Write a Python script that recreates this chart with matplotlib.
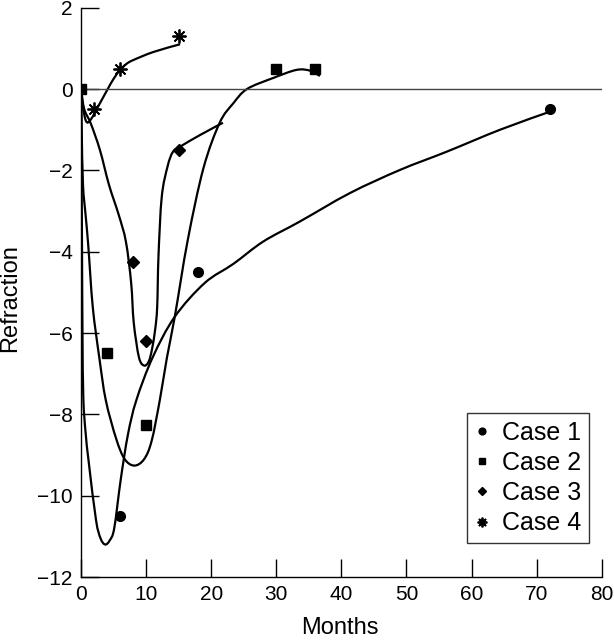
import numpy as np
import matplotlib.pyplot as plt
from matplotlib.path import Path
from matplotlib.patches import PathPatch

plt.rcParams['font.family'] = ['Liberation Sans', 'DejaVu Sans']

# measured points
case1_x = [6, 18, 72]
case1_y = [-10.5, -4.5, -0.5]
case2_x = [0, 4, 10, 30, 36]
case2_y = [0, -6.5, -8.25, 0.5, 0.5]
case3_x = [8, 10, 15]
case3_y = [-4.25, -6.2, -1.5]
case4_x = [2, 6, 15]
case4_y = [-0.5, 0.5, 1.3]

# fitted curves
fit1_x = [0, 0.08, 0.15, 0.22, 0.35, 0.7, 1.2, 2.3, 3.0, 3.7, 4.4, 5.1, 6.1, 7.2, 8.5,
          11, 14.4, 19, 23.4, 28, 33.6, 41.3, 49, 56.2, 64.4, 72]
fit1_y = [0, -2, -4, -6, -7.6, -8.45, -9.2, -10.6, -11.05, -11.2, -11.1, -10.8, -9.6,
          -8.5, -7.65, -6.6, -5.6, -4.77, -4.3, -3.75, -3.26, -2.56, -1.99, -1.54, -1.0, -0.56]
fit2_x = [0, 0.1, 0.3, 0.7, 1.1, 1.8, 2.8, 3.8, 5.4, 6.7, 8.2, 9.7, 10.85, 12.1, 13.2,
          14.4, 16.4, 18.8, 21.3, 23.4, 25.5, 29.5, 33.1, 35.2, 36.7]
fit2_y = [0, -1, -2.36, -3.1, -3.83, -5.36, -6.6, -7.65, -8.6, -9.1, -9.26, -9.1, -8.65,
          -7.65, -6.6, -5.6, -3.71, -1.95, -0.83, -0.35, 0, 0.27, 0.47, 0.45, 0.32]
fit3_x = [0, 0.5, 1.5, 2.9, 4.3, 5.8, 6.9, 7.7, 8.1, 8.9, 9.7, 10.4, 10.9, 11.4, 11.7,
          11.9, 12.4, 13.3, 14.1, 15.2, 18.3, 21.8]
fit3_y = [0, -0.5, -0.85, -1.5, -2.36, -3.1, -3.76, -4.77, -5.75, -6.6, -6.8, -6.7, -6.4,
          -5.9, -5.35, -4.1, -2.65, -1.9, -1.55, -1.42, -1.13, -0.83]
fit4_x = [0, 0.3, 0.8, 1.5, 2.9, 4.1, 5, 6, 7, 8, 11.1, 15.2]
fit4_y = [0, -0.45, -0.8, -0.75, -0.35, 0, 0.25, 0.47, 0.62, 0.71, 0.91, 1.1]


def smooth_path(xs, ys):
    # Catmull-Rom through the traced points, drawn as cubic Bezier segments
    p = np.column_stack([xs, ys]).astype(float)
    p_ext = np.vstack([p[0], p, p[-1]])
    verts = [p[0]]
    codes = [Path.MOVETO]
    for i in range(len(p) - 1):
        p0, p1, p2, p3 = p_ext[i], p_ext[i + 1], p_ext[i + 2], p_ext[i + 3]
        verts += [p1 + (p2 - p0) / 6, p2 - (p3 - p1) / 6, p2]
        codes += [Path.CURVE4] * 3
    return Path(verts, codes)


fig = plt.figure(figsize=(6.14, 6.4), dpi=100)
ax = fig.add_axes([0.132, 0.0984, 0.848, 0.8896])

for fx, fy in [(fit1_x, fit1_y), (fit2_x, fit2_y), (fit3_x, fit3_y), (fit4_x, fit4_y)]:
    ax.add_patch(PathPatch(smooth_path(fx, fy), facecolor='none', edgecolor='black',
                           lw=1.6, capstyle='butt'))

ax.axhline(0, color='#444444', lw=1.0)

ax.plot(case1_x, case1_y, 'o', color='black', ms=7, ls='none', label='Case 1')
ax.plot(case2_x, case2_y, 's', color='black', ms=6.5, ls='none', label='Case 2')
ax.plot(case3_x, case3_y, 'D', color='black', ms=6, ls='none', label='Case 3')
ax.plot(case4_x, case4_y, marker=(8, 2, 0), color='black', ms=10, mew=1.3, ls='none', label='Case 4')

ax.set_xlim(0, 80)
ax.set_ylim(-12, 2)
ax.set_xticks(range(0, 81, 10))
ax.set_yticks(range(-12, 3, 2))
ax.tick_params(direction='in', length=13, width=1, labelsize=15, pad=6)
ax.spines['top'].set_visible(False)
ax.spines['right'].set_visible(False)
for s in ['left', 'bottom']:
    ax.spines[s].set_linewidth(1)

ax.set_xlabel('Months', fontsize=17)
ax.set_ylabel('Refraction', fontsize=17)
ax.xaxis.set_label_coords(0.497, -0.071)
ax.yaxis.set_label_coords(-0.115, 0.49)

leg = ax.legend(loc='lower right', bbox_to_anchor=(0.975, 0.06), fontsize=18,
                frameon=True, fancybox=False, edgecolor='black', markerscale=0.7,
                handlelength=0.6, handletextpad=0.5, labelspacing=0.25, borderpad=0.3,
                borderaxespad=0)
leg.get_frame().set_linewidth(1)

fig.savefig('out.png', dpi=100)
